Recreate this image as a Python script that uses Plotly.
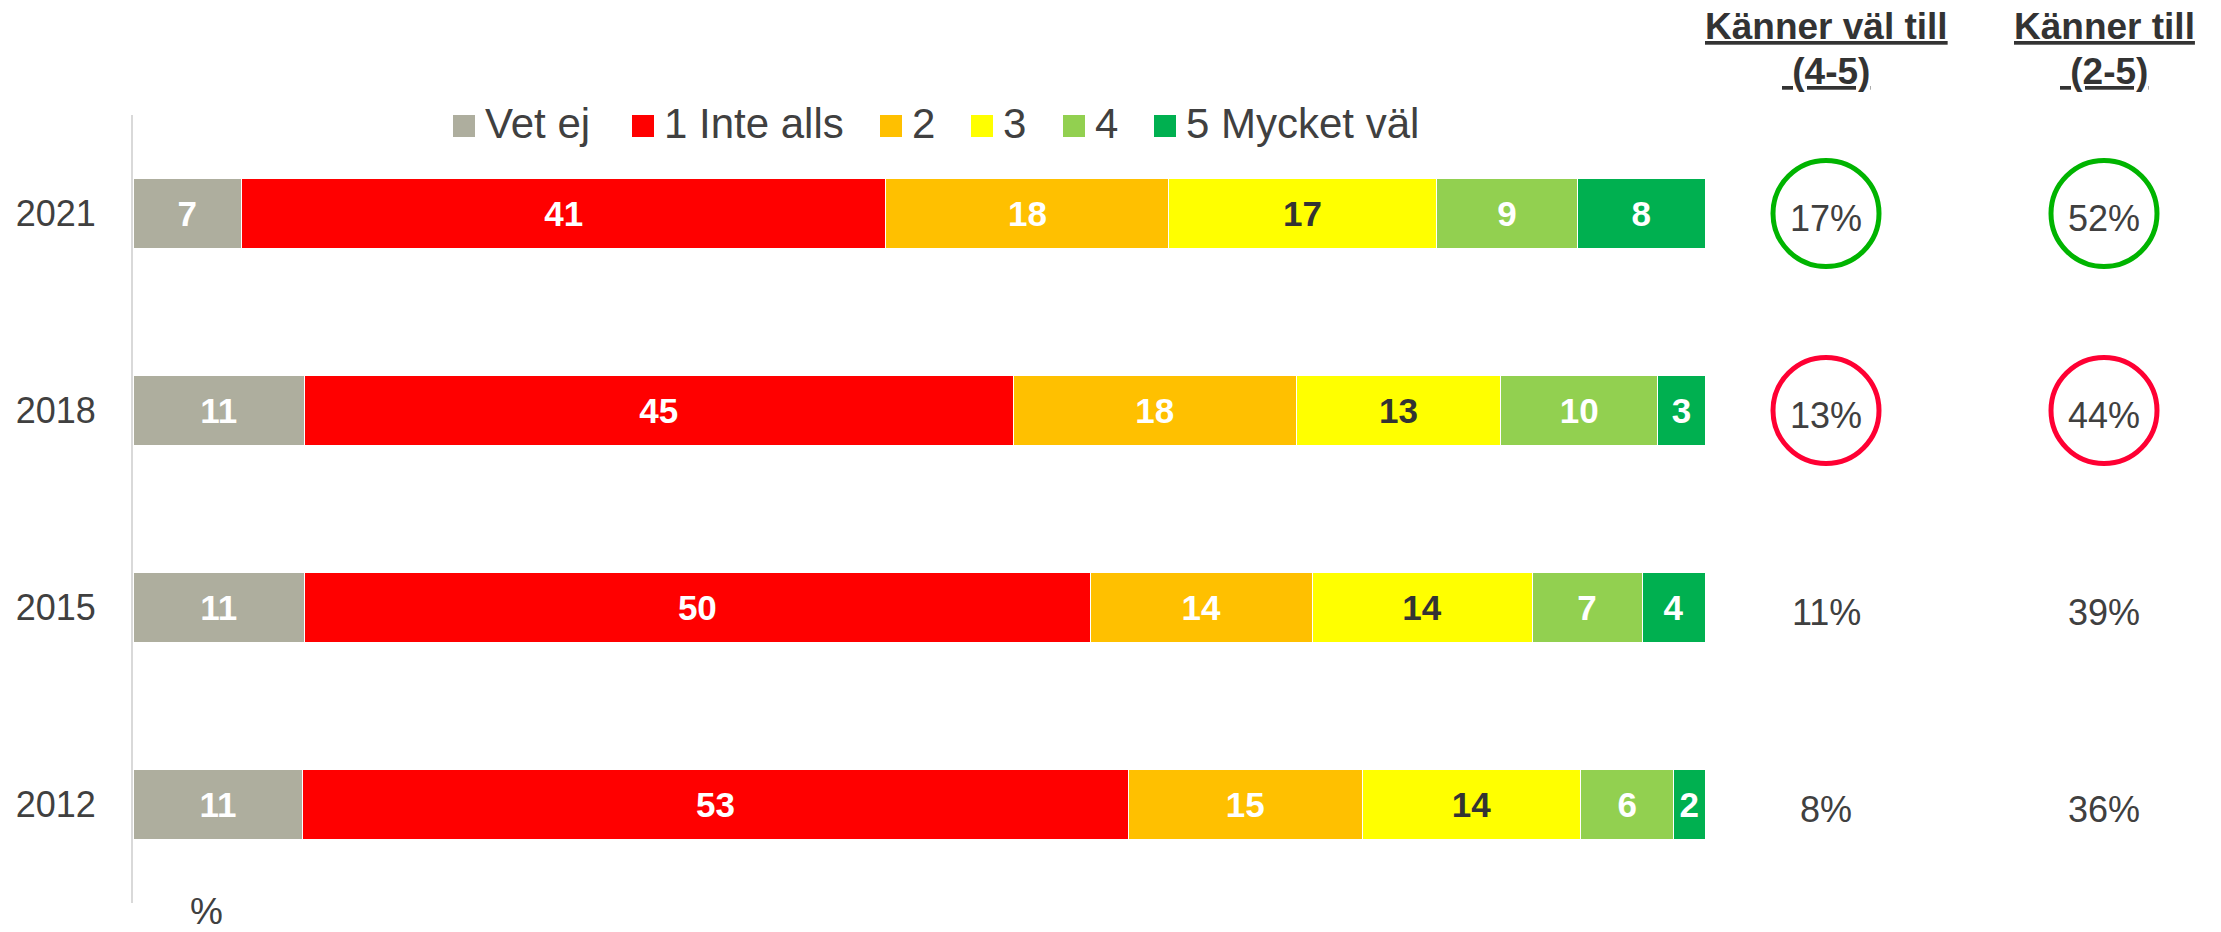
import plotly.graph_objects as go

# ---------------- data ----------------
years = ["2021", "2018", "2015", "2012"]
categories = ["Vet ej", "1 Inte alls", "2", "3", "4", "5 Mycket väl"]

# bar lengths (percent)
vet_ej = [6.9, 10.9, 10.9, 10.8]
inte_alls = [41.0, 45.1, 50.0, 52.5]
two = [18.0, 18.0, 14.1, 14.9]
three = [17.0, 13.0, 14.0, 13.9]
four = [9.0, 10.0, 7.0, 5.9]
five = [8.1, 3.0, 4.0, 2.0]

# printed labels
lab_vet_ej = [7, 11, 11, 11]
lab_inte_alls = [41, 45, 50, 53]
lab_two = [18, 18, 14, 15]
lab_three = [17, 13, 14, 14]
lab_four = [9, 10, 7, 6]
lab_five = [8, 3, 4, 2]

# summary columns
kanner_val_till = [17, 13, 11, 8]   # (4-5)
kanner_till = [52, 44, 39, 36]      # (2-5)
highlight = ["#00B400", "#FF0033", None, None]

header_1 = ["Känner väl till", "\u00a0(4-5)"]
header_2 = ["Känner till", "\u00a0(2-5)"]

# ---------------- style ----------------
FONT = "Liberation Sans, Arial, sans-serif"
TXT = "#404040"
colors = ["#AEAE9E", "#FF0000", "#FFC000", "#FFFF00", "#92D050", "#00B050"]
label_colors = ["white", "white", "white", "#333333", "white", "white"]

W, H = 2221, 932
ML, MR, MT, MB = 133, 0, 115, 29
PW, PH = W - ML - MR, H - MT - MB
BAR_PX = 1572
dom1 = BAR_PX / PW
COL_PX = 278          # distance between the two summary columns
COL0_OFF = 121        # first summary column, px right of the bar area
cat_order = years[::-1]


def px_x(p):
    return (p - ML) / PW


def px_y(p):
    return 1 - (p - MT) / PH


series = [vet_ej, inte_alls, two, three, four, five]
labels = [lab_vet_ej, lab_inte_alls, lab_two, lab_three, lab_four, lab_five]

fig = go.Figure()
for name, vals, labs, col, lc in zip(categories, series, labels, colors, label_colors):
    fig.add_trace(go.Bar(
        name=name, y=years, x=vals, orientation="h",
        marker=dict(color=col, line=dict(color="white", width=1)),
        width=0.36,
        text=[f"<b>{v}</b>" for v in labs],
        textposition="inside", insidetextanchor="middle", textangle=0,
        textfont=dict(family=FONT, size=35, color=lc),
        hoverinfo="skip",
    ))

annotations = []
# summary columns
for col_idx, vals in enumerate([kanner_val_till, kanner_till]):
    ys = [y for y, h in zip(years, highlight) if h]
    cs = [h for h in highlight if h]
    fig.add_trace(go.Scatter(
        x=[col_idx] * len(ys), y=ys, mode="markers",
        marker=dict(symbol="circle-open", size=106, color=cs,
                    line=dict(width=5, color=cs)),
        xaxis="x2", yaxis="y", cliponaxis=False, hoverinfo="skip",
    ))
    for y, v in zip(years, vals):
        annotations.append(dict(
            xref="x2", x=col_idx, yref="y", y=cat_order.index(y), yshift=-5,
            text=f"{v}%", showarrow=False, xanchor="center", yanchor="middle",
            font=dict(family=FONT, size=36, color=TXT),
        ))

# headers
for col_idx, hdr in enumerate([header_1, header_2]):
    for txt, ypx in zip(hdr, [27, 72]):
        annotations.append(dict(
            xref="x2", x=col_idx, yref="paper", y=px_y(ypx),
            text=f"<b><u>{txt}</u></b>", showarrow=False,
            xanchor="center", yanchor="middle",
            font=dict(family=FONT, size=37, color="#333333"),
        ))

# "%" unit label
annotations.append(dict(
    xref="paper", x=px_x(206), yref="paper", y=px_y(911),
    text="%", showarrow=False, xanchor="center", yanchor="middle",
    font=dict(family=FONT, size=37, color=TXT),
))

# custom legend
legend_sq_left = [453, 632, 880, 971, 1063, 1154]
SQ = 22
LEG_TOP = 115
shapes = []
for name, col, sx in zip(categories, colors, legend_sq_left):
    shapes.append(dict(
        type="rect", xref="paper", yref="paper",
        x0=px_x(sx), x1=px_x(sx + SQ), y0=px_y(LEG_TOP + SQ), y1=px_y(LEG_TOP),
        fillcolor=col, line=dict(width=0),
    ))
    annotations.append(dict(
        xref="paper", x=px_x(sx + SQ + 8), yref="paper", y=px_y(124),
        text=name, showarrow=False, xanchor="left", yanchor="middle",
        font=dict(family=FONT, size=42, color=TXT),
    ))

fig.update_layout(
    width=W, height=H,
    margin=dict(l=ML, r=MR, t=MT, b=MB, pad=0),
    paper_bgcolor="white", plot_bgcolor="white",
    barmode="stack", showlegend=False,
    font=dict(family=FONT, color=TXT),
    xaxis=dict(domain=[0, dom1], range=[0, 100], visible=False, fixedrange=True),
    xaxis2=dict(domain=[dom1, 1],
                range=[-COL0_OFF / COL_PX, (W - ML - BAR_PX - COL0_OFF) / COL_PX],
                visible=False, anchor="y", fixedrange=True),
    yaxis=dict(
        type="category", categoryorder="array", categoryarray=cat_order,
        range=[-0.5, 3.5], showline=True, linecolor="#D9D9D9", linewidth=2,
        showgrid=False, zeroline=False, ticks="",
        tickfont=dict(family=FONT, size=36, color=TXT),
        ticklabelstandoff=28, fixedrange=True,
    ),
    shapes=shapes, annotations=annotations,
)

fig.write_html(
    "out.html",
    config={"displayModeBar": False},
    post_script="document.body.style.margin='0';document.body.style.overflow='hidden';",
)
